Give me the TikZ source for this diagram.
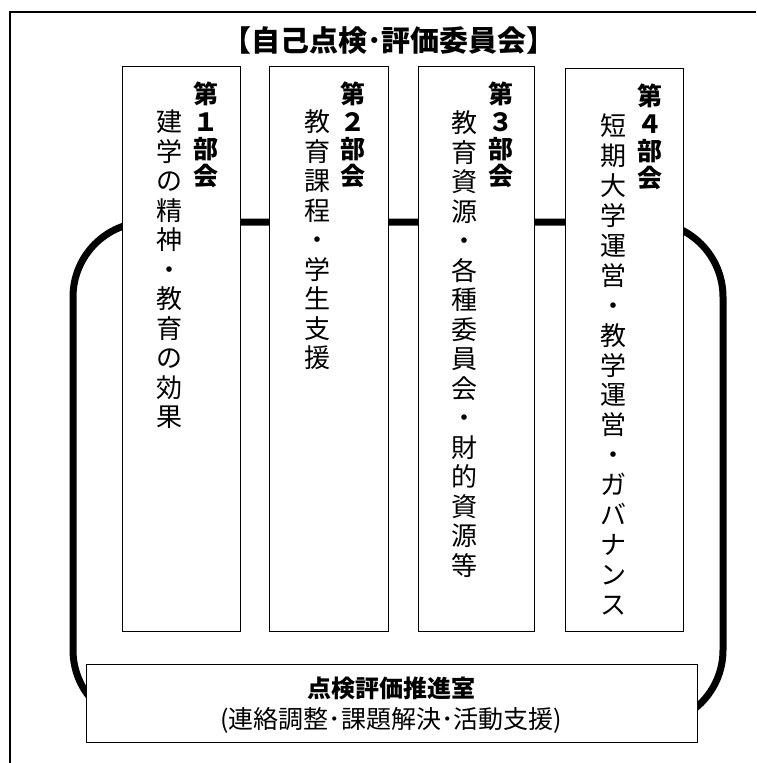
\documentclass[tikz,border=0pt]{standalone}
\usepackage{fontspec}
\newfontfamily\jp{Noto Sans CJK JP}
\tikzset{
  frame/.style={line width=1.5pt},
  colbox/.style={draw, fill=white, line width=1.2pt, inner sep=0pt},
  ring/.style={line width=7pt, rounded corners=75pt},
  hd/.style={font=\jp\bfseries\fontsize{25}{25}\selectfont, inner sep=0pt, text height=0.88em, text depth=0.12em},
  bd/.style={font=\jp\fontsize{26}{26}\selectfont, inner sep=0pt, text height=0.88em, text depth=0.12em},
  ttl/.style={font=\jp\bfseries\fontsize{29}{29}\selectfont, inner sep=0pt},
  otl/.style={font=\jp\bfseries\fontsize{24}{24}\selectfont, inner sep=0pt},
  osub/.style={font=\jp\fontsize{25}{25}\selectfont, inner sep=0pt},
}
\begin{document}
\begin{tikzpicture}[x=1pt,y=-1pt]
\useasboundingbox (0,0) rectangle (756,763);
% outer frame
\draw[frame] (10,763) -- (10,12) -- (756,12);
% title
\node[ttl] (title) at (389,41) {【自己点検･評価委員会】};
% thick ring
\draw[ring] (73,222) rectangle (723,725);
% columns
\node[colbox, minimum width=118pt, minimum height=565pt, anchor=north west] (c1) at (122,66) {};
\node[colbox, minimum width=119pt, minimum height=565pt, anchor=north west] (c2) at (269,66) {};
\node[colbox, minimum width=116pt, minimum height=565pt, anchor=north west] (c3) at (418,66) {};
\node[colbox, minimum width=118pt, minimum height=563pt, anchor=north west] (c4) at (565,68) {};
% headings
\foreach \t [count=\i from 0] in {第,１,部,会} \node[hd] (h1-\i) at (206,100+27.3*\i) {\t};
\foreach \t [count=\i from 0] in {第,２,部,会} \node[hd] (h2-\i) at (353,100+27.3*\i) {\t};
\foreach \t [count=\i from 0] in {第,３,部,会} \node[hd] (h3-\i) at (501,100+27.3*\i) {\t};
\foreach \t [count=\i from 0] in {第,４,部,会} \node[hd] (h4-\i) at (650,102+27.3*\i) {\t};
% bodies
\foreach \t [count=\i from 0] in {建,学,の,精,神,・,教,育,の,効,果} \node[bd] (b1-\i) at (169,128+29.5*\i) {\t};
\foreach \t [count=\i from 0] in {教,育,課,程,・,学,生,支,援} \node[bd] (b2-\i) at (317,128+29.5*\i) {\t};
\foreach \t [count=\i from 0] in {教,育,資,源,・,各,種,委,員,会,・,財,的,資,源,等} \node[bd] (b3-\i) at (464,129+29.5*\i) {\t};
\foreach \t [count=\i from 0] in {短,期,大,学,運,営,・,教,学,運,営,・,ガ,バ,ナ,ン,ス} \node[bd] (b4-\i) at (613,132+29.9*\i) {\t};
% bottom office box
\node[colbox, minimum width=611pt, minimum height=78pt, anchor=north west] (office) at (86,664) {};
\node[otl] (otitle) at (391,688) {点検評価推進室};
\node[osub] (osub) at (391,720) {(連絡調整･課題解決･活動支援)};
\end{tikzpicture}
\end{document}
